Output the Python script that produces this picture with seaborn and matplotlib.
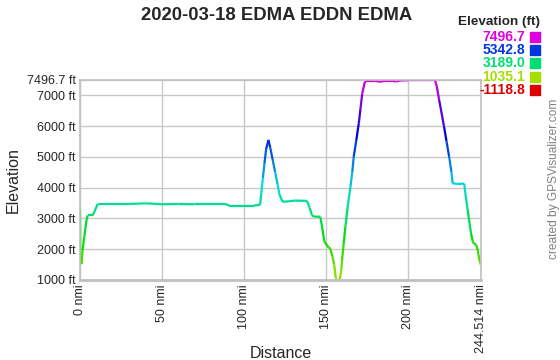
import matplotlib
matplotlib.use("Agg")
import matplotlib.pyplot as plt
import seaborn as sns
import pandas as pd
import colorsys

# ---- data ----
distance_nmi = [0, 0.2, 1.0, 1.6, 2.6, 4.0, 4.7, 7.7, 8.8, 10.8, 30, 40, 50, 60, 70, 80, 89,
                91, 100, 106, 109.8, 110.5, 111.5, 112.5, 113.5, 114.9, 116, 117.5, 119,
                120.5, 121.5, 123.5, 128, 131, 138.4, 140, 141.5, 142.5, 146.5, 147.5, 149,
                151.5, 152.6, 154, 155, 156, 156.5, 158.4, 159.3, 159.8, 160.8, 161.8, 163.3,
                164.9, 166, 166.9, 168.5, 170, 171, 172.1, 173.7, 175, 180, 183, 186, 190,
                193, 195, 200, 210, 216.5, 217.5, 219, 222, 223.5, 225.1, 226.5, 227.2, 230,
                234.3, 235, 236.4, 238.4, 239.5, 240.1, 241.5, 242.5, 243.5, 244.514]
elevation_ft = [3300, 1540, 1520, 1970, 2406, 2950, 3100, 3100, 3220, 3470, 3470, 3490, 3460,
                3470, 3460, 3460, 3460, 3420, 3420, 3420, 3440, 3800, 4300, 4800, 5250, 5550,
                5300, 4900, 4500, 4100, 3800, 3540, 3560, 3580, 3570, 3350, 3100, 3060, 3056,
                2760, 2250, 2060, 2030, 1750, 1500, 1050, 1010, 1010, 1300, 1650, 2200, 2730,
                3400, 4030, 4500, 5000, 5550, 6090, 6550, 7060, 7440, 7470, 7470, 7440, 7470,
                7470, 7450, 7480, 7490, 7490, 7490, 7300, 6850, 5980, 5500, 5000, 4500, 4140,
                4120, 4130, 3800, 3270, 2520, 2250, 2190, 2150, 1970, 1650, 1480]

legend_values = [7496.7, 5342.8, 3189.0, 1035.1, -1118.8]
y_ticks = [1000, 2000, 3000, 4000, 5000, 6000, 7000, 7496.7]
y_tick_labels = ["1000 ft", "2000 ft", "3000 ft", "4000 ft", "5000 ft", "6000 ft", "7000 ft", "7496.7 ft"]
x_ticks = [0, 50, 100, 150, 200, 244.514]
x_tick_labels = ["0 nmi", "50 nmi", "100 nmi", "150 nmi", "200 nmi", "244.514 nmi"]
title = "2020-03-18 EDMA EDDN EDMA"

vmin, vmax = -1118.8, 7496.7


def elev_color(v):
    t = min(max((v - vmin) / (vmax - vmin), 0), 1)
    return colorsys.hsv_to_rgb(t * 300 / 360, 1.0, 0.87)


sns.set_style("white")
plt.rcParams['font.family'] = ['Liberation Sans', 'DejaVu Sans']

W, H = 560, 360
fig = plt.figure(figsize=(W / 100, H / 100), dpi=100)
ax = fig.add_axes([80 / W, 1 - 280 / H, (481 - 80) / W, 200 / H])

# build segment table so each piece is coloured by its elevation
rows = []
palette = {}
for i in range(len(distance_nmi) - 1):
    sid = f"s{i}"
    rows.append((sid, distance_nmi[i], elevation_ft[i]))
    rows.append((sid, distance_nmi[i + 1], elevation_ft[i + 1]))
    palette[sid] = elev_color((elevation_ft[i] + elevation_ft[i + 1]) / 2)
df = pd.DataFrame(rows, columns=["seg", "dist", "elev"])
sns.lineplot(data=df, x="dist", y="elev", hue="seg", palette=palette, legend=False,
             sort=False, estimator=None, linewidth=1.6, ax=ax, solid_capstyle="butt")

ax.set_xlim(0, 244.514)
ax.set_ylim(1000, 7496.7)
ax.set_xticks(x_ticks)
ax.set_xticklabels(x_tick_labels, rotation=90, fontsize=9)
ax.set_yticks(y_ticks)
ax.set_yticklabels(y_tick_labels, fontsize=9)
ax.tick_params(length=0, pad=3)
ax.grid(True, color="#c8c8c8", linewidth=1)
ax.set_axisbelow(True)
for s in ax.spines.values():
    s.set_color("#c0c0c0")
    s.set_linewidth(1.2)
ax.spines["bottom"].set_linewidth(2)

ax.set_xlabel("Distance", fontsize=11.5, labelpad=6)
ax.set_ylabel("Elevation", fontsize=11.5, labelpad=6)
ax.xaxis.set_label_coords(0.5, -0.33)
ax.yaxis.set_label_coords(-0.148, 0.5)
fig.text(277 / W, 1 - 15 / H, title, ha="center", va="center", fontsize=13.3, fontweight="bold")

# colour legend
fig.text(540 / W, 1 - 22 / H, "Elevation (ft)", ha="right", va="center", fontsize=9.7, fontweight="bold")
for k, v in enumerate(legend_values):
    yc = 1 - (37 + k * 13.2) / H
    col = elev_color(v)
    fig.text(525 / W, yc, f"{v:.1f}", ha="right", va="center", fontsize=10, fontweight="bold", color=col)
    fig.patches.append(plt.Rectangle((530 / W, yc - 5 / H), 10 / W, 10 / H,
                                     transform=fig.transFigure, color=col, figure=fig))

fig.text(554 / W, 1 - 179 / H, "created by GPSVisualizer.com", rotation=90, ha="center",
         va="center", fontsize=8.6, color="#808080")

fig.savefig("out.png", dpi=100)
